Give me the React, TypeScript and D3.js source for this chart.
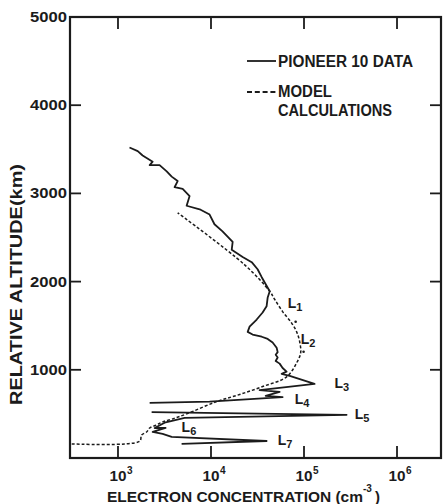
import React from "react";
import * as d3 from "d3";

// ---- data ----
const xTickValues = [1e3, 1e4, 1e5, 1e6];
const xTickExponents = ["3", "4", "5", "6"];
const yTickValues = [1000, 2000, 3000, 4000, 5000];
const yTickLabels = ["1000", "2000", "3000", "4000", "5000"];

// Pioneer 10 data (electron concentration cm^-3, relative altitude km); null = gap
const pioneerConc = [
  1330, 1630, 1840, 2360, 2190, 2800, 3340, 3780, 4380, 4060,
  4960, 5890, 5470, 7550, 9660, 10900, 13300, 17100, 16700, 21900,
  27400, 31700, 35100, 42800,
  40700, 39600, 35900, 31000, 26000, 24800, 28000, 35100, 40700, 46000,
  50800, 52100, 49600, 52100, 49600, 54700, 58900, 65000, 57500, 70200,
  130000, 33300,
  54700, 38700, 58900, 9660, 2190,
  null,
  2300, 287000, 5210,
  3170, 2480, 3250, 2360, 3020, 3780,
  39600, 4830,
];
const pioneerAlt = [
  3520, 3480, 3430, 3360, 3320, 3320, 3250, 3190, 3140, 3070,
  3050, 2970, 2860, 2820, 2760, 2650, 2570, 2450, 2360, 2280,
  2220, 2140, 2050, 1890,
  1820, 1720, 1650, 1570, 1490, 1430, 1400, 1375, 1350, 1310,
  1250, 1200, 1170, 1140, 1100, 1070, 1020, 980, 955, 930,
  840, 770,
  750, 705, 690, 640, 625,
  null,
  520, 490, 455,
  400, 340, 341, 295, 273, 240,
  193, 160,
];

// Model calculations
const modelConc = [
  318, 1710, 1790, 2030, 2190, 2600, 3020, 3780, 5470, 11500,
  20300, 35900, 65000, 83400, 92000, 89800, 83400, 73600, 58900, 48300,
  42800, 23000, 4380,
];
const modelAlt = [
  160, 190, 260, 295, 340, 375, 410, 440, 500, 640,
  720, 810, 920, 1080, 1190, 1320, 1430, 1530, 1660, 1800,
  1890, 2190, 2780,
];
const modelDotConc = [81300, 99000];
const modelDotAlt = [1545, 1205];

// Layer labels
const layerNames = ["1", "2", "3", "4", "5", "6", "7"];
const layerConc = [66700, 92000, 213000, 79300, 351000, 4830, 52100];
const layerAlt = [1705, 1295, 795, 614, 443, 295, 148];

const FONT = "'Liberation Sans', Arial, Helvetica, sans-serif";
const INK = "#1b1b1b";

export default function App() {
  const W = 443;
  const H = 504;
  const left = 70,
    right = 441,
    top = 17,
    bottom = 458;

  const x = d3
    .scaleLog()
    .domain([Math.pow(10, 2.484), Math.pow(10, 6.473)])
    .range([left, right]);
  const y = d3.scaleLinear().domain([0, 5000]).range([bottom, top]);

  const pioneerPts = pioneerConc.map((c, i) => [c, pioneerAlt[i]] as [number | null, number | null]);
  const modelPts = modelConc.map((c, i) => [c, modelAlt[i]] as [number, number]);

  const pLine = d3
    .line<[number | null, number | null]>()
    .defined((d) => d[0] != null && d[1] != null)
    .x((d) => x(d[0] as number))
    .y((d) => y(d[1] as number))
    .curve(d3.curveLinear);

  const mLine = d3
    .line<[number, number]>()
    .x((d) => x(d[0]))
    .y((d) => y(d[1]))
    .curve(d3.curveCatmullRom.alpha(0.5));

  return (
    <svg
      width={W}
      height={H}
      style={{ position: "absolute", left: 0, top: 0, background: "#fff" }}
      fontFamily={FONT}
      fontWeight="bold"
    >
      <rect x={0} y={0} width={W} height={H} fill="#fff" />
      {/* frame */}
      <rect
        x={left}
        y={top}
        width={right - left}
        height={bottom - top}
        fill="none"
        stroke={INK}
        strokeWidth={2.2}
      />
      {/* x ticks (top and bottom, inward) */}
      {xTickValues.map((v, i) => (
        <g key={"xt" + i}>
          <line x1={x(v)} x2={x(v)} y1={top} y2={top + 12} stroke={INK} strokeWidth={1.8} />
          <line x1={x(v)} x2={x(v)} y1={bottom} y2={bottom - 12} stroke={INK} strokeWidth={1.8} />
          <text x={x(v) - 8.5} y={481} fontSize={14} fill={INK} textLength={17} lengthAdjust="spacingAndGlyphs">
            10
          </text>
          <text x={x(v) + 9} y={474} fontSize={10} fill={INK}>
            {xTickExponents[i]}
          </text>
        </g>
      ))}
      {/* y ticks (left and right, inward) */}
      {yTickValues.map((v, i) => (
        <g key={"yt" + i}>
          {v < 5000 && (
            <>
              <line x1={left} x2={left + 11} y1={y(v)} y2={y(v)} stroke={INK} strokeWidth={1.8} />
              <line x1={right} x2={right - 11} y1={y(v)} y2={y(v)} stroke={INK} strokeWidth={1.8} />
            </>
          )}
          <text
            x={67}
            y={y(v) + 5}
            fontSize={14}
            textAnchor="end"
            fill={INK}
            textLength={37}
            lengthAdjust="spacingAndGlyphs"
          >
            {yTickLabels[i]}
          </text>
        </g>
      ))}
      {/* axis titles */}
      <text
        transform="translate(22,405) rotate(-90)"
        fontSize={16}
        fill={INK}
        textLength={241}
        lengthAdjust="spacingAndGlyphs"
      >
        RELATIVE ALTITUDE(km)
      </text>
      <text x={107} y={502} fontSize={15} fill={INK} textLength={256} lengthAdjust="spacingAndGlyphs">
        ELECTRON  CONCENTRATION  (cm
      </text>
      <text x={363} y={492} fontSize={10} fill={INK}>
        -3
      </text>
      <text x={375} y={502} fontSize={15} fill={INK}>
        )
      </text>

      {/* model calculations */}
      <path d={mLine(modelPts) || ""} fill="none" stroke={INK} strokeWidth={1.5} strokeDasharray="3,2" />
      {modelDotConc.map((c, i) => (
        <circle key={"md" + i} cx={x(c)} cy={y(modelDotAlt[i])} r={1.3} fill={INK} />
      ))}

      {/* pioneer 10 data */}
      <path
        d={pLine(pioneerPts) || ""}
        fill="none"
        stroke={INK}
        strokeWidth={1.8}
        strokeLinejoin="round"
      />

      {/* layer labels */}
      {layerNames.map((n, i) => (
        <text key={"L" + i} x={x(layerConc[i])} y={y(layerAlt[i])} fontSize={14} fill={INK}>
          L
          <tspan fontSize={11} dy={3}>
            {n}
          </tspan>
        </text>
      ))}

      {/* legend */}
      <line x1={247} x2={276} y1={61} y2={61} stroke={INK} strokeWidth={1.8} />
      <text x={278} y={67} fontSize={16} fill={INK} textLength={135} lengthAdjust="spacingAndGlyphs">
        PIONEER 10 DATA
      </text>
      <line x1={247} x2={276} y1={92} y2={92} stroke={INK} strokeWidth={1.8} strokeDasharray="5,2.8" />
      <text x={278} y={97} fontSize={16} fill={INK} textLength={54} lengthAdjust="spacingAndGlyphs">
        MODEL
      </text>
      <text x={278} y={116} fontSize={16} fill={INK} textLength={114} lengthAdjust="spacingAndGlyphs">
        CALCULATIONS
      </text>
    </svg>
  );
}
